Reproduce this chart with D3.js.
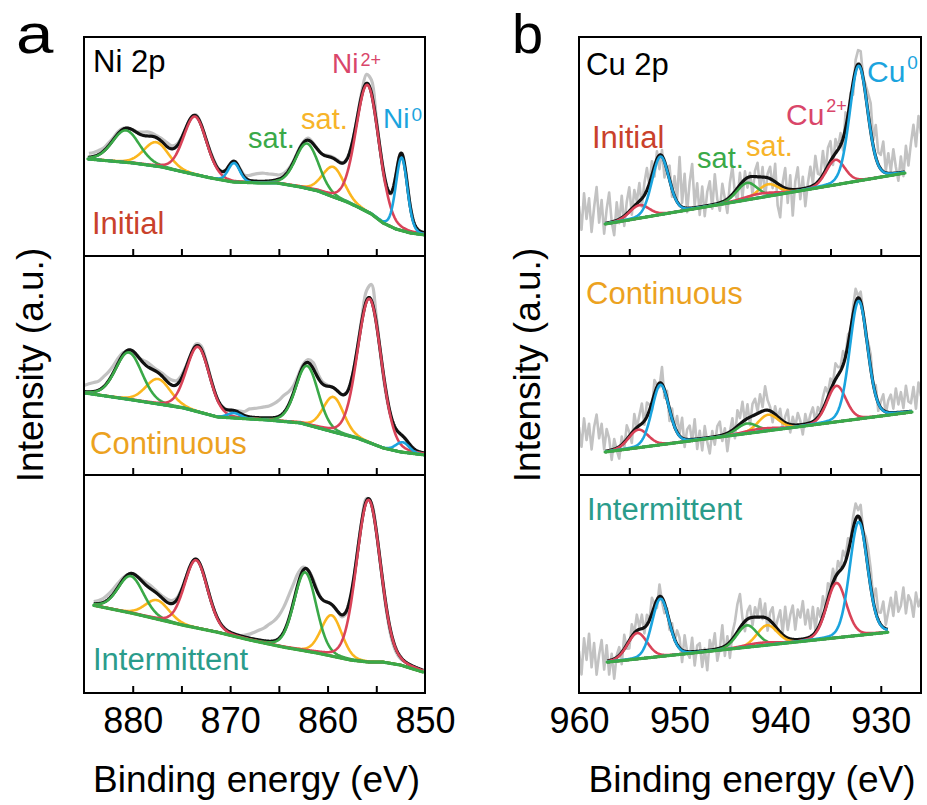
<!DOCTYPE html>
<html>
<head>
<meta charset="utf-8">
<script src="https://cdn.jsdelivr.net/npm/d3@7"></script>
<style>
  body { margin: 0; background: #fff; }
  svg { display: block; }
  text { font-family: "Liberation Sans", Arial, Helvetica, sans-serif; }
</style>
</head>
<body>
<svg id="fig" width="927" height="805"></svg>
<script>
// ---------------- Data ----------------
// Sample conditions (one row of spectra each)
const conditions = ["Initial", "Continuous", "Intermittent"];

// Axis ticks and labels (binding energy, eV)
const niTicks = [880, 875, 870, 865, 860, 855];
const niTickLabels = [880, 870, 860, 850];
const cuTicks = [955, 950, 945, 940, 935, 930];
const cuTickLabels = [960, 950, 940, 930];

// Ni 2p fitted components: [species, centre (eV), height (a.u.), FWHM (eV)]
const niPeaksInitial = [
  ["satG", 880.7, 32, 3.3], ["satO", 877.6, 24, 3.0], ["M2", 873.6, 58, 2.8], ["M0", 869.6, 19, 1.4],
  ["satG", 862.1, 45, 2.8], ["satO", 859.4, 30, 2.6], ["M2", 855.9, 127, 2.8], ["M0", 852.4, 73, 1.4]
];
const niPeaksContinuous = [
  ["satG", 880.4, 47, 3.2], ["satO", 877.4, 25, 3.0], ["M2", 873.3, 65, 2.8], ["M0", 869.6, 5, 1.6],
  ["satG", 862.1, 59, 2.7], ["satO", 859.4, 35, 2.5], ["M2", 855.7, 144, 2.9], ["M0", 852.3, 10, 1.6]
];
const niPeaksIntermittent = [
  ["satG", 880.2, 37, 3.1], ["satO", 877.5, 19, 2.9], ["M2", 873.5, 68, 2.8],
  ["satG", 862.3, 79, 2.7], ["satO", 859.6, 41, 2.5], ["M2", 855.8, 163, 2.9]
];

// Ni 2p Shirley-type backgrounds: [energy (eV), intensity (a.u.)]
const niBgInitial = [
  [884.6, 97], [880, 93], [877, 89], [874.8, 84], [872, 78], [869.7, 74], [867, 73], [865.2, 73],
  [862.8, 69], [861, 65], [859.4, 59], [858, 54], [856.7, 48], [855.5, 42], [854.3, 33],
  [853, 27], [851.5, 23], [850, 21]
];
const niBgContinuous = [
  [884.9, 82], [880, 75], [874.8, 67], [871.3, 58], [868, 56], [866.2, 55], [862.8, 52],
  [859.4, 43], [857, 37], [855.9, 33], [854.3, 27], [852.5, 23], [850, 20]
];
const niBgIntermittent = [
  [884.0, 88], [880, 80], [874.8, 68], [871.3, 61], [867.9, 53], [864.5, 46], [861, 40],
  [857.6, 33], [855.8, 31], [854.3, 31], [852.5, 28], [850.2, 21]
];

// Ni 2p measured spectra, as deviation from the fit envelope, every 0.5 eV
const niRawStart = [884.5, 885.0, 884.0];
const niResidInitial = [
  4, 4, 4, 3, 3, 2, 2, 1, 0, 0,
  1, 3, 4, 3, 2, 3, 4, 3, 2, 1,
  0, 0, 1, 0, 0, 1, 1, 0, 0, 0,
  0, 1, 2, 5, 7, 8, 8, 7, 6, 4,
  3, 2, 1, 1, 1, 2, 1, 0, 0, 1,
  1, 1, 0, 0, 0, 0, 3, 9, 13, 4,
  -1, -2, -1, 0, 0, 0, 0, 0, 0, 0
];
const niResidContinuous = [
  6, 8, 9, 9, 10, 9, 7, 5, 2, -2,
  -3, -1, 2, 4, 3, 2, 3, 4, 5, 4,
  3, 1, 0, 2, 3, 2, 1, 0, 0, 0,
  0, 0, 2, 4, 8, 9, 10, 11, 12, 14,
  16, 17, 13, 7, 3, 2, 3, 6, 4, 2,
  1, 0, 0, 0, 0, 0, 0, 3, 10, 16,
  6, -2, -3, -1, 0, 0, 0, 0, 0, 0, 0
];
const niResidIntermittent = [
  2, 3, 4, 5, 5, 4, 2, 0, -1, 0,
  2, 3, 3, 2, 2, 3, 3, 2, 1, 0,
  0, 0, 0, 0, 0, 0, 0, 0, 0, 0,
  0, 2, 4, 7, 10, 13, 17, 20, 23, 25,
  24, 18, 10, 3, 0, 2, 1, 0, 0, 0,
  0, -2, -3, -2, 0, 1, 2, 1, 0, -1,
  -3, -4, -3, -2, 0, 0, 0, 0, 0
];

// Cu 2p fitted components: [species, centre (eV), height (a.u.), FWHM (eV)]
const cuPeaksInitial = [
  ["M2", 954.0, 13, 2.3], ["M0", 951.9, 58, 2.0], ["satG", 943.3, 17, 2.4], ["M2", 942.0, 4, 4.0],
  ["satO", 941.2, 12, 2.4], ["M2", 934.5, 25, 2.2], ["M0", 932.2, 115, 2.1]
];
const cuPeaksContinuous = [
  ["M2", 954.1, 18, 2.3], ["M0", 951.9, 60, 2.0], ["satG", 943.3, 10, 2.4], ["M2", 942.0, 3, 4.0],
  ["satO", 941.2, 16, 2.4], ["M2", 934.4, 36, 2.2], ["M0", 932.2, 118, 2.1]
];
const cuPeaksIntermittent = [
  ["M2", 954.2, 26, 2.3], ["M0", 951.9, 58, 2.0], ["satG", 943.3, 22, 2.4], ["M2", 942.0, 3, 4.0],
  ["satO", 941.3, 20, 2.4], ["M2", 934.4, 55, 2.3], ["M0", 932.2, 114, 2.1]
];

// Cu 2p linear backgrounds: [energy (eV), intensity (a.u.)]
const cuBgInitial = [[957.4, 32], [927.6, 83]];
const cuBgContinuous = [[957.4, 23], [926.9, 63]];
const cuBgIntermittent = [[957.2, 31], [929.3, 61]];

// Cu 2p measured spectra, as deviation from the fit envelope, every 0.25 eV from 960 eV
const cuRawStart = 960;
const cuResidInitial = [
  22, -2, 34, 8,   28, -6, 18, 38,   2, 24, -10, 14,   30, 0, -14, 18,
  -4, 22, -10, 12, 24, -6, 16, 2,    18, -8, 12, 22,   -2, 14, -10, 8,
  -14, 6, -16, 2,  14, -8, 20, 2,    48, 4, 34, -4,    26, 44, 2, 24,
  -8, 20, -10, 14, 24, -4, 30, 4,    -8, 18, 2, -14,   14, 28, -2, -12,
  12, -16, 8, -10, 4, -18, 6, 14,    -12, 10, -20, 4,  12, -8, 18, -22,
  -32, 4, 20, -14, 14, -26, 8, 22,   -10, 12, -18, 4,  20, 2, 28, 8,
  4, 24, -2, 18,   20, -8, 14, 2,    12, -12, 16, -2,  6, -12, 10, 14,
  16, 2, 10, 20,   28, 6, 32, 12,    14, 30, 2, 20,    2, 24, 6, -8,
  16, -4, 26, 6,   28, 46, 24, 54,   36
];
const cuResidContinuous = [
  28, 8, 36, 14,   30, 4, 26, 38,    14, 28, 2, 22,    12, -10, 10, -2,
  -12, 8, -6, 14,  4, -10, 16, 0,    10, 20, -4, 14,   6, -8, 14, 2,
  -4, 17, -8, 8,   -12, 10, -2, 16,  2, 20, -8, 10,    14, -2, 20, -10,
  8, -12, 12, -4,  -16, 6, -8, 10,   14, -6, 6, -18,   0, 12, -10, 16,
  6, 20, -2, 14,   -8, 12, 16, 2,    18, 4, 24, 10,    4, -10, 8, -2,
  10, -6, 6, 14,   -8, 8, -2, 12,    4, -10, 10, -2,   8, 14, -2, 10,
  2, 12, 16, 4,    12, 2, 16, 8,     4, 14, 0, 10,     -2, 8, 14, 2,
  10, 2, -6, 8,    14, -2, 10, -8,   6, 16, -2, 12,    18, 4, 24, 8,
  20, 4, 26, 10,   8, 24, 2, 28,     14
];
const cuResidIntermittent = [
  14, -10, 26, 4,  30, -4, 20, -12,  8, 22, -8, 16,    -14, 6, -20, 2,
  8, -12, 14, -4,  -8, 12, 0, 16,    2, 14, -6, 10,    0, 16, 2, -8,
  12, -4, -10, 4,  -8, 8, -2, 14,    10, -12, 16, 0,   -6, 14, -14, 6,
  8, -16, 2, -20,  10, 0, 16, -12,   0, 22, -10, 8,    -16, 6, 14, 28,
  34, 6, -10, 8,   12, -8, 10, 2,    18, -2, 14, -12,  8, 16, -4, 10,
  22, 2, 30, 8,    24, 34, 10, 30,   22, 38, 14, 28,   8, 28, 2, 20,
  6, 20, -2, 16,   4, 14, -4, 12,    2, 16, 4, 14,     0, 12, 16, 6,
  16, 2, 14, 20,   18, 2, 24, 8,     12, 26, 4, 18,    32, 14, 38, 18,
  24, 42, 16, 34,  28, 12, 36, 22,   30
];

// ---------------- Styling ----------------
const colors = { satG: "#3aa948", satO: "#fbb61f", M2: "#d94358", M0: "#1ba4de" };
const bgColor = "#3aa948";
const rawColor = "#c2c2c2";
const conditionColors = ["#c9412b", "#eca21f", "#2a9c8b"];
const componentOrder = ["satO", "satG", "M2", "M0"];
const ETA = 0.15; // Lorentzian fraction of the pseudo-Voigt line shape

// ---------------- Layout ----------------
const svg = d3.select("#fig");
const rows = [[37, 256], [256, 475], [475, 693]];
const ROW_RANGE = 219;

const panels = [
  {
    name: "a", x0: 84, x1: 425, domain: [885, 850],
    ticks: niTicks, labels: niTickLabels,
    peaks: [niPeaksInitial, niPeaksContinuous, niPeaksIntermittent],
    bg: [niBgInitial, niBgContinuous, niBgIntermittent],
    resid: [niResidInitial, niResidContinuous, niResidIntermittent],
    rawStart: niRawStart, rawStep: 0.5, rawCurve: d3.curveCatmullRom, rawWidth: 3.2
  },
  {
    name: "b", x0: 579, x1: 921, domain: [960, 926],
    ticks: cuTicks, labels: cuTickLabels,
    peaks: [cuPeaksInitial, cuPeaksContinuous, cuPeaksIntermittent],
    bg: [cuBgInitial, cuBgContinuous, cuBgIntermittent],
    resid: [cuResidInitial, cuResidContinuous, cuResidIntermittent],
    rawStart: [cuRawStart, cuRawStart, cuRawStart], rawStep: 0.25, rawCurve: d3.curveLinear, rawWidth: 2.6
  }
];

function pseudoVoigt(E, c, h, w) {
  const t = (E - c) / w;
  return h * (ETA / (1 + 4 * t * t) + (1 - ETA) * Math.exp(-4 * Math.LN2 * t * t));
}

const defs = svg.append("defs");

panels.forEach((p, pi) => {
  const x = d3.scaleLinear().domain(p.domain).range([p.x0, p.x1]);

  rows.forEach(([top, bottom], ri) => {
    const y = d3.scaleLinear().domain([0, ROW_RANGE]).range([bottom, top]);
    const clipId = `clip-${p.name}-${ri}`;
    defs.append("clipPath").attr("id", clipId)
      .append("rect").attr("x", p.x0).attr("y", top).attr("width", p.x1 - p.x0).attr("height", bottom - top);

    const g = svg.append("g").attr("clip-path", `url(#${clipId})`);
    const bgPts = p.bg[ri];
    const bgScale = d3.scaleLinear().domain(bgPts.map(d => d[0])).range(bgPts.map(d => d[1]));
    const peaks = p.peaks[ri];
    const eHi = bgPts[0][0], eLo = bgPts[bgPts.length - 1][0];
    const grid = d3.range(eHi, eLo - 1e-9, -0.05);

    const envelopeAt = E => bgScale(E) + d3.sum(peaks, pk => pseudoVoigt(E, pk[1], pk[2], pk[3]));

    // measured spectrum
    const resid = p.resid[ri];
    const raw = resid.map((r, i) => {
      const E = p.rawStart[ri] - i * p.rawStep;
      return [E, envelopeAt(E) + r];
    });
    g.append("path")
      .attr("d", d3.line().x(d => x(d[0])).y(d => y(d[1])).curve(p.rawCurve)(raw))
      .attr("fill", "none").attr("stroke", rawColor).attr("stroke-width", p.rawWidth)
      .attr("stroke-linejoin", "round");

    // fit envelope
    g.append("path")
      .attr("d", d3.line().x(E => x(E)).y(E => y(envelopeAt(E)))(grid))
      .attr("fill", "none").attr("stroke", "#111").attr("stroke-width", 3.2)
      .attr("stroke-linejoin", "round");

    // fitted components, each riding on the background
    componentOrder.forEach(sp => {
      peaks.filter(pk => pk[0] === sp).forEach(pk => {
        g.append("path")
          .attr("d", d3.line().x(E => x(E)).y(E => y(bgScale(E) + pseudoVoigt(E, pk[1], pk[2], pk[3])))(grid))
          .attr("fill", "none").attr("stroke", colors[sp]).attr("stroke-width", 2.6)
          .attr("stroke-linejoin", "round");
      });
    });

    // background
    g.append("path")
      .attr("d", d3.line().x(E => x(E)).y(E => y(bgScale(E)))(grid))
      .attr("fill", "none").attr("stroke", bgColor).attr("stroke-width", 3.2)
      .attr("stroke-linecap", "round");

    // inward ticks on the lower edge of each row
    const tickAxis = svg.append("g").attr("transform", `translate(0,${bottom})`)
      .call(d3.axisBottom(x).tickValues(p.ticks).tickSize(-7).tickFormat(""));
    tickAxis.select(".domain").remove();
    tickAxis.selectAll(".tick line").attr("stroke", "#000").attr("stroke-width", 2);

    // frame
    svg.append("rect").attr("x", p.x0).attr("y", top).attr("width", p.x1 - p.x0).attr("height", bottom - top)
      .attr("fill", "none").attr("stroke", "#000").attr("stroke-width", 2);

    // condition label
    const condPos = pi === 0
      ? [[92, 234], [90, 454], [93, 670]]
      : [[592, 148], [586, 304], [587, 520]];
    svg.append("text").attr("x", condPos[ri][0]).attr("y", condPos[ri][1])
      .attr("font-size", 31).attr("fill", conditionColors[ri]).text(conditions[ri]);
  });

  // tick labels under the bottom row
  const labelAxis = svg.append("g").attr("transform", `translate(0,${rows[2][1]})`)
    .call(d3.axisBottom(x).tickValues(p.labels).tickSize(0).tickFormat(d3.format("d")));
  labelAxis.select(".domain").remove();
  labelAxis.selectAll(".tick text")
    .attr("y", 40).attr("dy", 0)
    .attr("font-size", 36).attr("font-family", "Liberation Sans, Arial, sans-serif").attr("fill", "#000");

  // axis titles
  const cx = (p.x0 + p.x1) / 2;
  svg.append("text").attr("x", cx + 2).attr("y", 792).attr("text-anchor", "middle")
    .attr("font-size", 37).text("Binding energy (eV)");
  const ty = (rows[0][0] + rows[2][1]) / 2;
  const tx = pi === 0 ? 43 : 540;
  svg.append("text").attr("transform", `translate(${tx},${ty}) rotate(-90)`)
    .attr("text-anchor", "middle").attr("font-size", 37).text("Intensity (a.u.)");
});

// panel letters
svg.append("text").attr("transform", "translate(16,53) scale(1.2,1)").attr("font-size", 56).text("a");
svg.append("text").attr("x", 512).attr("y", 53).attr("font-size", 56).text("b");

// ---------------- In-plot annotations ----------------
function label(xp, yp, size, color, main, sup, supDy, supSize) {
  const t = svg.append("text").attr("x", xp).attr("y", yp).attr("font-size", size).attr("fill", color).text(main);
  if (sup) t.append("tspan").attr("dx", 2).attr("dy", supDy).attr("font-size", supSize).text(sup);
}
label(93, 72, 31, "#000", "Ni 2p");
label(248, 148, 29, colors.satG, "sat.");
label(301, 129, 29, "#f7b42a", "sat.");
label(332, 73, 28, "#d9466a", "Ni", "2+", -7, 18);
label(383, 128, 28, "#1ba4de", "Ni", "0", -7, 19);

label(586, 75, 31, "#000", "Cu 2p");
label(697, 168, 29, colors.satG, "sat.");
label(746, 156, 29, "#f7b42a", "sat.");
label(786, 125, 30, "#d9466a", "Cu", "2+", -13, 18);
label(867, 82, 30, "#1ba4de", "Cu", "0", -13, 19);
</script>
</body>
</html>
